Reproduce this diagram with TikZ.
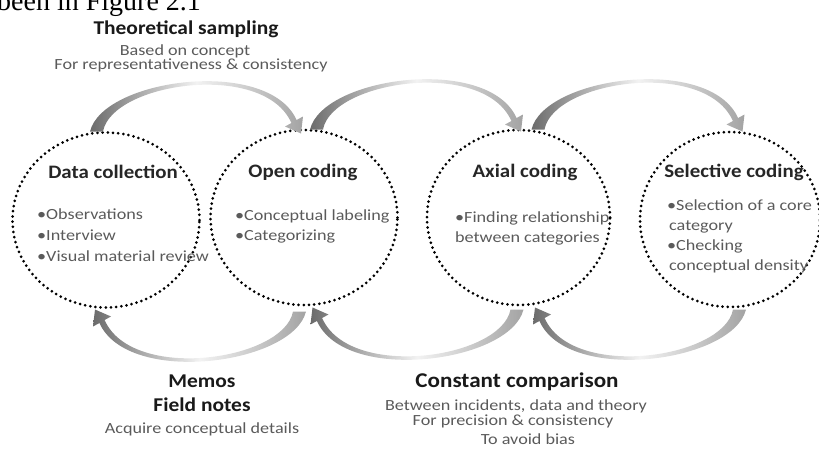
\documentclass[tikz,border=0pt]{standalone}
\usepackage{fontspec}
\setmainfont{Carlito}
\newfontfamily\headfont{Carlito}[FakeStretch=1.1]
\newfontfamily\bodyfont{Carlito}[FakeStretch=1.17]
\newfontfamily\serifpage{Liberation Serif}
\usetikzlibrary{shapes.geometric,calc}
\definecolor{txtgray}{HTML}{5A5A5A}
\begin{document}
\begin{tikzpicture}[x=1pt,y=-1pt,
 circ/.style={ellipse, draw=black, line width=3pt, dash pattern=on 0pt off 5.2pt, line cap=round, inner sep=0pt},
 head/.style={font=\headfont\fontsize{19.5}{22}\selectfont\bfseries, text=black!90, inner sep=0pt, anchor=base},
 chead/.style={font=\headfont\fontsize{19}{22}\selectfont\bfseries, text=black!85, inner sep=0pt, anchor=base},
 body/.style={font=\bodyfont\fontsize{15.5}{18}\selectfont, text=txtgray, inner sep=0pt, anchor=base},
 bodyl/.style={body, anchor=base west},
 pics/swoosh/.style={code={
   \shade[left color=black!58, right color=black!36, middle color=black!5]
     (-8,0) .. controls (5,-53) and (170,-75) .. (198.6,-11.5)
     -- (205,-15) -- (203,2) -- (187,-5) -- (193.4,-8.5)
     .. controls (166,-71) and (14,-49) .. (5,0) -- cycle;
 }}
]
\useasboundingbox (0,0) rectangle (819,451);
\clip (0,0) rectangle (819,451);
% page text fragment
\node[anchor=base west, inner sep=0pt, font=\serifpage\fontsize{28}{32}\selectfont] (pg) at (-3,10) {been in Figure 2.1};
% circles
\node[circ, minimum width=187pt, minimum height=175pt] (dc) at (106,220) {};
\node[circ, minimum width=187pt, minimum height=175pt] (oc) at (304,217.5) {};
\node[circ, minimum width=183pt, minimum height=175pt] (ac) at (518.5,217.5) {};
\node[circ, minimum width=180pt, minimum height=175pt] (sc) at (730,219.5) {};
% swoosh connectors (top: forward, bottom: backward)
\pic (t1) at ($(dc.north)+(-8,0.5)$) {swoosh};
\pic (t2) at ($(oc.north)+(14,1)$) {swoosh};
\pic (t3) at ($(ac.north)+(21,1)$) {swoosh};
\pic[rotate=180] (b1) at ($(oc.south)+(-6,5)$) {swoosh};
\pic[rotate=180] (b2) at ($(ac.south)+(-3,3)$) {swoosh};
\pic[rotate=180] (b3) at ($(sc.south)+(8,1)$) {swoosh};
% top labels
\node[head] (ts) at (186,34) {Theoretical sampling};
\node[body] (ts1) at (185,55) {Based on concept};
\node[body] (ts2) at (191,69) {For representativeness \& consistency};
% data collection
\node[chead] (dch) at (113,178) {Data collection};
\node[bodyl] (dc1) at (37,219) {•Observations};
\node[bodyl] (dc2) at (37,240) {•Interview};
\node[bodyl] (dc3) at (37,261) {•Visual material review};
% open coding
\node[chead] (och) at (303,177) {Open coding};
\node[bodyl] (oc1) at (235,220) {•Conceptual labeling};
\node[bodyl] (oc2) at (235,240) {•Categorizing};
% axial coding
\node[chead] (ach) at (525,177) {Axial coding};
\node[bodyl] (ac1) at (455,222) {•Finding relationship};
\node[bodyl] (ac2) at (455,242) {between categories};
% selective coding
\node[chead] (sch) at (734,177) {Selective coding};
\node[bodyl] (sc1) at (667,210) {•Selection of a core};
\node[bodyl] (sc2) at (669,230) {category};
\node[bodyl] (sc3) at (667,250) {•Checking};
\node[bodyl] (sc4) at (669,270) {conceptual density};
% bottom labels
\node[head] (mm) at (202,387) {Memos};
\node[head] (fn) at (202,411) {Field notes};
\node[body] (mm1) at (202,433) {Acquire conceptual details};
\node[head, font=\headfont\fontsize{21}{24}\selectfont\bfseries] (cc) at (517,387) {Constant comparison};
\node[body] (cc1) at (516,410) {Between incidents, data and theory};
\node[body] (cc2) at (513,425) {For precision \& consistency};
\node[body] (cc3) at (528,444) {To avoid bias};
\end{tikzpicture}
\end{document}
